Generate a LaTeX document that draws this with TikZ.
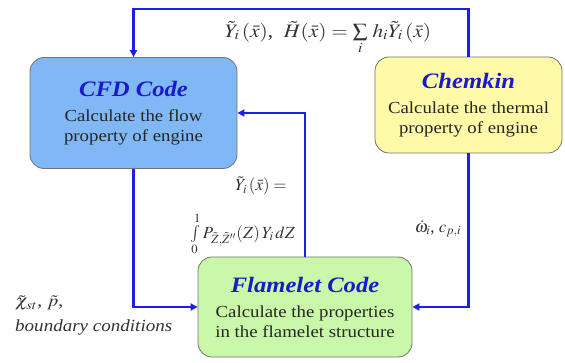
\documentclass[tikz,border=0pt]{standalone}
\usepackage{mathptmx}
\usepackage{fontspec}
\setmainfont{Liberation Serif}
\newfontfamily\boxfont[FakeStretch=1.12]{Liberation Serif}
\usetikzlibrary{arrows.meta}
\definecolor{lineblue}{HTML}{1E1EE6}
\definecolor{titleblue}{HTML}{1A1ACC}
\definecolor{cfdfill}{HTML}{80B8F5}
\definecolor{chemfill}{HTML}{FFFAA8}
\definecolor{flamefill}{HTML}{C8F8A8}
\begin{document}
\begin{tikzpicture}[x=1pt,y=-1pt,
  box/.style={draw=black!55, line width=0.8pt, rounded corners=14pt, align=center,
    inner sep=0pt, font=\boxfont\fontsize{16.8}{20}\selectfont, text=black!85},
  flow/.style={draw=lineblue, line width=2.8pt, -{Triangle[length=7pt,width=7pt]}},
  lab/.style={inner sep=0pt, font=\fontsize{17}{19}\selectfont, text=black!80}]
\useasboundingbox (0,0) rectangle (565,363);
\newcommand{\boxttl}[1]{\textcolor{titleblue}{\fontsize{22}{24}\selectfont\bfseries\itshape #1}\\[5pt]}
\node[box, fill=cfdfill, minimum width=207pt, minimum height=111pt] (cfd) at (133.5,113)
  {\boxttl{CFD Code}Calculate the flow\\property of engine};
\node[box, fill=chemfill, minimum width=187pt, minimum height=96pt] (chem) at (468.5,105)
  {\boxttl{Chemkin}Calculate the thermal\\property of engine};
\node[box, fill=flamefill, minimum width=214pt, minimum height=100pt] (flame) at (305,307)
  {\boxttl{Flamelet Code}Calculate the properties\\in the flamelet structure};
\coordinate (topy) at (0,9);
\draw[flow] (chem.north) |- (topy -| cfd.north) -- (cfd.north);
\draw[flow] (chem.south) |- (flame.east);
\draw[flow] (cfd.south) |- (flame.west);
\draw[flow] (flame.north) |- (cfd.east);
\node[lab, font=\fontsize{19}{21}\selectfont] (l1) at (328,38) {\scalebox{1.12}[1]{$\tilde{Y}_i\,(\bar{x})$,\ \ $\tilde{H}(\bar{x})=\sum\limits_i\, h_i\tilde{Y}_i\,(\bar{x})$}};
\node[lab] (l2) at (261,186) {$\tilde{Y}_i\,(\bar{x})=$};
\node[lab] (l3) at (243,234) {$\int\limits_0^1 P_{\tilde{Z},\tilde{Z}''}(Z)\,Y_i\,dZ$};
\node[lab] (l4) at (438,229) {$\dot{\omega}_i$,\ $c_{p,i}$};
\node[lab, anchor=west] (l5) at (15,303) {\scalebox{1.15}[1]{$\tilde{\chi}_{st}$,\ $\tilde{p}$,}};
\node[lab, anchor=west, font=\boxfont\fontsize{17}{19}\selectfont\itshape] (l6) at (15,327) {boundary conditions};
\end{tikzpicture}
\end{document}
